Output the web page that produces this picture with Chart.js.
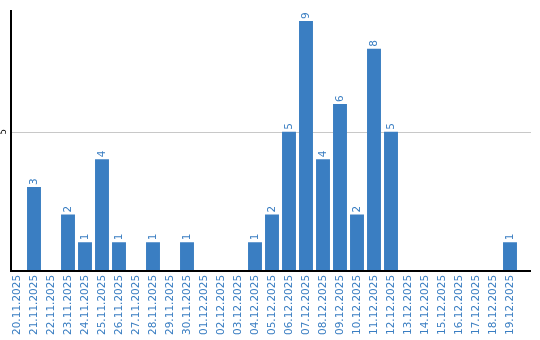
<!DOCTYPE html>
<html><head><meta charset="utf-8">
<script src="https://cdn.jsdelivr.net/npm/chart.js@4"></script>
<style>html,body{margin:0;padding:0;background:#fff}#wrap{width:540px;height:340px}</style>
</head><body><div id="wrap"><canvas id="c"></canvas></div>
<script>
const categories = ["20.11.2025","21.11.2025","22.11.2025","23.11.2025","24.11.2025","25.11.2025","26.11.2025","27.11.2025","28.11.2025","29.11.2025","30.11.2025","01.12.2025","02.12.2025","03.12.2025","04.12.2025","05.12.2025","06.12.2025","07.12.2025","08.12.2025","09.12.2025","10.12.2025","11.12.2025","12.12.2025","13.12.2025","14.12.2025","15.12.2025","16.12.2025","17.12.2025","18.12.2025","19.12.2025"];
const values = [0,3,0,2,1,4,1,0,1,0,1,0,0,0,1,2,5,9,4,6,2,8,5,0,0,0,0,0,0,1];
const yTicks = [5];
const BLUE = '#3a7ec2';
const AXIS_X = 11, AXIS_RIGHT = 531;

const gridPlugin = {
  id: 'grid5',
  beforeDatasetsDraw(chart) {
    const ctx = chart.ctx, ys = chart.scales.y;
    ctx.save();
    ctx.strokeStyle = '#c8c8c8';
    ctx.lineWidth = 1;
    yTicks.forEach(t => {
      const y = Math.round(ys.getPixelForValue(t)) + 0.5;
      ctx.beginPath(); ctx.moveTo(AXIS_X, y); ctx.lineTo(AXIS_RIGHT, y); ctx.stroke();
    });
    ctx.restore();
  },
  afterDatasetsDraw(chart) {
    const ctx = chart.ctx, ca = chart.chartArea;
    ctx.save();
    ctx.strokeStyle = '#000';
    ctx.lineWidth = 2;
    ctx.beginPath(); ctx.moveTo(AXIS_X, ca.top); ctx.lineTo(AXIS_X, ca.bottom + 1); ctx.lineTo(AXIS_RIGHT, ca.bottom + 1); ctx.stroke();
    const meta = chart.getDatasetMeta(0);
    ctx.fillStyle = BLUE;
    ctx.font = '10.5px "DejaVu Sans"';
    ctx.textAlign = 'left';
    ctx.textBaseline = 'middle';
    meta.data.forEach((bar, i) => {
      if (!values[i]) return;
      ctx.save();
      ctx.translate(bar.x, bar.y - 2);
      ctx.rotate(-Math.PI / 2);
      ctx.fillText(String(values[i]), 0, 0);
      ctx.restore();
    });
    const ys = chart.scales.y;
    ctx.fillStyle = '#000';
    ctx.font = '8px "DejaVu Sans"';
    ctx.textAlign = 'center';
    yTicks.forEach(t => {
      ctx.save();
      ctx.translate(AXIS_X - 7, ys.getPixelForValue(t));
      ctx.rotate(-Math.PI / 2);
      ctx.fillText(String(t), 0, 0);
      ctx.restore();
    });
    ctx.restore();
  }
};

new Chart(document.getElementById('c'), {
  type: 'bar',
  data: { labels: categories, datasets: [{ data: values, backgroundColor: BLUE, categoryPercentage: 1, barPercentage: 0.82 }] },
  options: {
    responsive: true, maintainAspectRatio: false, animation: false,
    layout: { padding: { left: 8.5, right: 21.5, top: 10, bottom: 0 } },
    plugins: { legend: { display: false }, tooltip: { enabled: false } },
    scales: {
      x: {
        grid: { display: false, drawTicks: false },
        border: { display: false },
        ticks: { color: BLUE, minRotation: 90, maxRotation: 90, autoSkip: false, padding: 5, font: { family: '"DejaVu Sans"', size: 10.5 } }
      },
      y: {
        min: 0, max: 9.4,
        ticks: { display: false, stepSize: 5 },
        grid: { display: false, drawTicks: false },
        border: { display: false }
      }
    }
  },
  plugins: [gridPlugin]
});
</script></body></html>
